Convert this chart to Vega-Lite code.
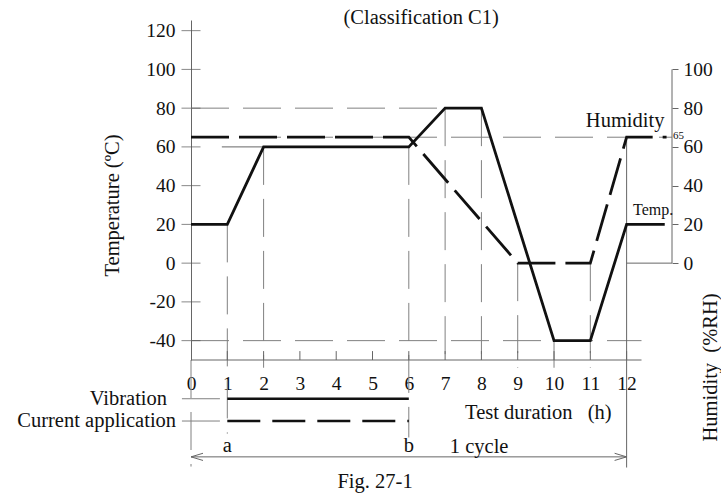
{
  "$schema": "https://vega.github.io/schema/vega-lite/v6.json",
  "width": 481,
  "height": 340,
  "autosize": {"type": "none"},
  "padding": {"left": 191, "top": 20, "right": 49, "bottom": 138},
  "background": "white",
  "config": {
    "view": {"stroke": null},
    "font": "Liberation Serif",
    "axis": {"labelFont": "Liberation Serif", "titleFont": "Liberation Serif", "labelColor": "#111", "titleColor": "#111", "grid": false, "titleFontWeight": "normal"}
  },
  "datasets": {
    "temp": [
      {"x": 0, "y": 20}, {"x": 1, "y": 20}, {"x": 2, "y": 60}, {"x": 6, "y": 60},
      {"x": 7, "y": 80}, {"x": 8, "y": 80}, {"x": 10, "y": -40}, {"x": 11, "y": -40},
      {"x": 12, "y": 20}, {"x": 13.05, "y": 20}
    ],
    "hum": [
      {"x": 0, "y": 65}, {"x": 6, "y": 65}, {"x": 9, "y": 0}, {"x": 11, "y": 0},
      {"x": 12, "y": 65}, {"x": 13.1, "y": 65}
    ],
    "thinDash": [
      {"x": 1, "x2": 1, "y": 20, "y2": -88},
      {"x": 2, "x2": 2, "y": 60, "y2": -54},
      {"x": 6, "x2": 6, "y": 60, "y2": -90},
      {"x": 7, "x2": 7, "y": 80, "y2": -54},
      {"x": 8, "x2": 8, "y": 80, "y2": -54},
      {"x": 9, "x2": 9, "y": 0, "y2": -54},
      {"x": 10, "x2": 10, "y": -40, "y2": -54},
      {"x": 11, "x2": 11, "y": 0, "y2": -54},
      {"x": 0, "x2": 0, "y": -50, "y2": -105},
      {"x": 0, "x2": 7, "y": 80, "y2": 80},
      {"x": 0, "x2": 13.25, "y": 65, "y2": 65},
      {"x": 0, "x2": 12.41, "y": -40, "y2": -40},
      {"x": -0.25, "x2": 1, "y": -70, "y2": -70},
      {"x": -0.25, "x2": 1, "y": -81.5, "y2": -81.5}
    ],
    "thinSolid": [
      {"x": 0.85, "x2": 2, "y": 60, "y2": 60},
      {"x": 12, "x2": 13.25, "y": 0, "y2": 0},
      {"x": 12, "x2": 12, "y": 65, "y2": -105.5},
      {"x": 0, "x2": 12.41, "y": -50, "y2": -50},
      {"x": 0, "x2": 12, "y": -100, "y2": -100}
    ],
    "xTicks": [
      {"x": 1, "y": -50, "y2": -45.4}, {"x": 2, "y": -50, "y2": -45.4}, {"x": 3, "y": -50, "y2": -45.4},
      {"x": 4, "y": -50, "y2": -45.4}, {"x": 5, "y": -50, "y2": -45.4}, {"x": 6, "y": -50, "y2": -45.4},
      {"x": 7, "y": -50, "y2": -45.4}, {"x": 8, "y": -50, "y2": -45.4}, {"x": 9, "y": -50, "y2": -45.4},
      {"x": 10, "y": -50, "y2": -45.4}, {"x": 11, "y": -50, "y2": -45.4}, {"x": 12, "y": -50, "y2": -45.4}
    ],
    "vibration": [{"x": 1, "x2": 6, "y": -70, "y2": -70}],
    "current": [{"x": 1, "x2": 6, "y": -81.5, "y2": -81.5}],
    "arrows": [{"x": 0, "y": -100, "dir": "L"}, {"x": 12, "y": -100, "dir": "R"}],
    "leftTicks": [{"x": 0, "y": -40}, {"x": 0, "y": -20}, {"x": 0, "y": 0}, {"x": 0, "y": 20}, {"x": 0, "y": 40}, {"x": 0, "y": 60}, {"x": 0, "y": 80}, {"x": 0, "y": 100}, {"x": 0, "y": 120}],
    "rightAxis": [{"x": 13.25, "y": 0, "y2": 100}],
    "rowLabels": [
      {"x": -0.66, "y": -70, "t": "Vibration"},
      {"x": -0.41, "y": -81.5, "t": "Current application"}
    ],
    "centerLabels": [
      {"x": 6.34, "y": 126.5, "t": "(Classification C1)"},
      {"x": 11.96, "y": 73.3, "t": "Humidity"},
      {"x": 1, "y": -94.5, "t": "a"},
      {"x": 6, "y": -94.5, "t": "b"},
      {"x": 5.07, "y": -113, "t": "Fig. 27-1"}
    ],
    "leftLabels": [
      {"x": 7.55, "y": -77.4, "t": "Test duration\u00a0\u00a0\u00a0(h)"},
      {"x": 7.13, "y": -95, "t": "1 cycle"}
    ],
    "tempLabel": [{"x": 12.73, "y": 27.4, "t": "Temp."}],
    "smallLabel": [{"x": 13.28, "y": 65.6, "t": "65"}]
  },
  "encoding": {
    "x": {"field": "x", "type": "quantitative", "scale": {"domain": [0, 13.25], "nice": false, "zero": false},
      "axis": {"orient": "bottom", "values": [0, 1, 2, 3, 4, 5, 6, 7, 8, 9, 10, 11, 12], "domain": false, "ticks": false, "labelPadding": 14, "labelFontSize": 19.5, "labelFlush": false, "labelOverlap": false, "title": null}},
    "y": {"field": "y", "type": "quantitative", "scale": {"domain": [-50, 125.5], "nice": false, "zero": false}, "axis": null}
  },
  "layer": [
    {
      "data": {"name": "thinDash"},
      "mark": {"type": "rule", "color": "#808080", "strokeWidth": 1, "strokeDash": [38, 14]},
      "encoding": {"x2": {"field": "x2"}, "y2": {"field": "y2"}}
    },
    {
      "data": {"name": "thinSolid"},
      "mark": {"type": "rule", "color": "#666", "strokeWidth": 1},
      "encoding": {"x2": {"field": "x2"}, "y2": {"field": "y2"}}
    },
    {
      "data": {"name": "xTicks"},
      "mark": {"type": "rule", "color": "#666", "strokeWidth": 1},
      "encoding": {"y2": {"field": "y2"}}
    },
    {
      "data": {"name": "leftTicks"},
      "mark": {"type": "tick", "orient": "horizontal", "size": 19, "thickness": 1, "color": "#555"},
      "encoding": {
        "y": {"field": "y", "type": "quantitative", "scale": {"domain": [-50, 125.5], "nice": false, "zero": false},
          "axis": {"orient": "left", "values": [-40, -20, 0, 20, 40, 60, 80, 100, 120], "ticks": false, "domain": true, "domainColor": "#666", "labelPadding": 16, "labelFontSize": 19.5, "labelExpr": "'' + datum.value",
            "title": "Temperature (ºC)", "titleFontSize": 20.5, "titleAngle": -90, "titleAlign": "center", "titleBaseline": "middle", "titleX": -79, "titleY": 185}}
      }
    },
    {
      "data": {"name": "rightAxis"},
      "mark": {"type": "rule", "color": "#666", "strokeWidth": 1},
      "encoding": {
        "y": {"field": "y", "type": "quantitative", "scale": {"domain": [-50, 125.5], "nice": false, "zero": false},
          "axis": {"orient": "right", "values": [0, 20, 40, 60, 80, 100], "domain": false, "ticks": true, "tickSize": 6, "tickColor": "#666", "labelPadding": 5, "labelFontSize": 19.5,
            "title": "Humidity\u00a0\u00a0(%RH)", "titleFontSize": 20.5, "titleAngle": -90, "titleAlign": "center", "titleBaseline": "middle", "titleX": 38, "titleY": 347}},
        "y2": {"field": "y2"}
      }
    },
    {
      "data": {"name": "vibration"},
      "mark": {"type": "rule", "color": "#111", "strokeWidth": 2.6},
      "encoding": {"x2": {"field": "x2"}, "y2": {"field": "y2"}}
    },
    {
      "data": {"name": "current"},
      "mark": {"type": "rule", "color": "#111", "strokeWidth": 2.6, "strokeDash": [33, 12]},
      "encoding": {"x2": {"field": "x2"}, "y2": {"field": "y2"}}
    },
    {
      "data": {"name": "hum"},
      "mark": {"type": "line", "color": "#111", "strokeWidth": 2.8, "strokeDash": [38, 10]},
      "encoding": {}
    },
    {
      "data": {"name": "temp"},
      "mark": {"type": "line", "color": "#111", "strokeWidth": 2.8},
      "encoding": {}
    },
    {
      "data": {"name": "arrows"},
      "mark": {"type": "point", "filled": false, "color": "#666", "strokeWidth": 1, "size": 144, "opacity": 1},
      "encoding": {
        "shape": {"field": "dir", "type": "nominal", "scale": {"domain": ["L", "R"], "range": ["M0,0L2,-0.6M0,0L2,0.6", "M0,0L-2,-0.6M0,0L-2,0.6"]}, "legend": null}
      }
    },
    {
      "data": {"name": "rowLabels"},
      "mark": {"type": "text", "align": "right", "baseline": "middle", "fontSize": 20.5, "color": "#111"},
      "encoding": {"text": {"field": "t"}}
    },
    {
      "data": {"name": "centerLabels"},
      "mark": {"type": "text", "align": "center", "baseline": "middle", "fontSize": 20.5, "color": "#111"},
      "encoding": {"text": {"field": "t"}}
    },
    {
      "data": {"name": "leftLabels"},
      "mark": {"type": "text", "align": "left", "baseline": "middle", "fontSize": 20.5, "color": "#111"},
      "encoding": {"text": {"field": "t"}}
    },
    {
      "data": {"name": "tempLabel"},
      "mark": {"type": "text", "align": "center", "baseline": "middle", "fontSize": 16, "color": "#111"},
      "encoding": {"text": {"field": "t"}}
    },
    {
      "data": {"name": "smallLabel"},
      "mark": {"type": "text", "align": "left", "baseline": "middle", "fontSize": 11, "color": "#111"},
      "encoding": {"text": {"field": "t"}}
    }
  ],
  "resolve": {"axis": {"y": "independent"}}
}
